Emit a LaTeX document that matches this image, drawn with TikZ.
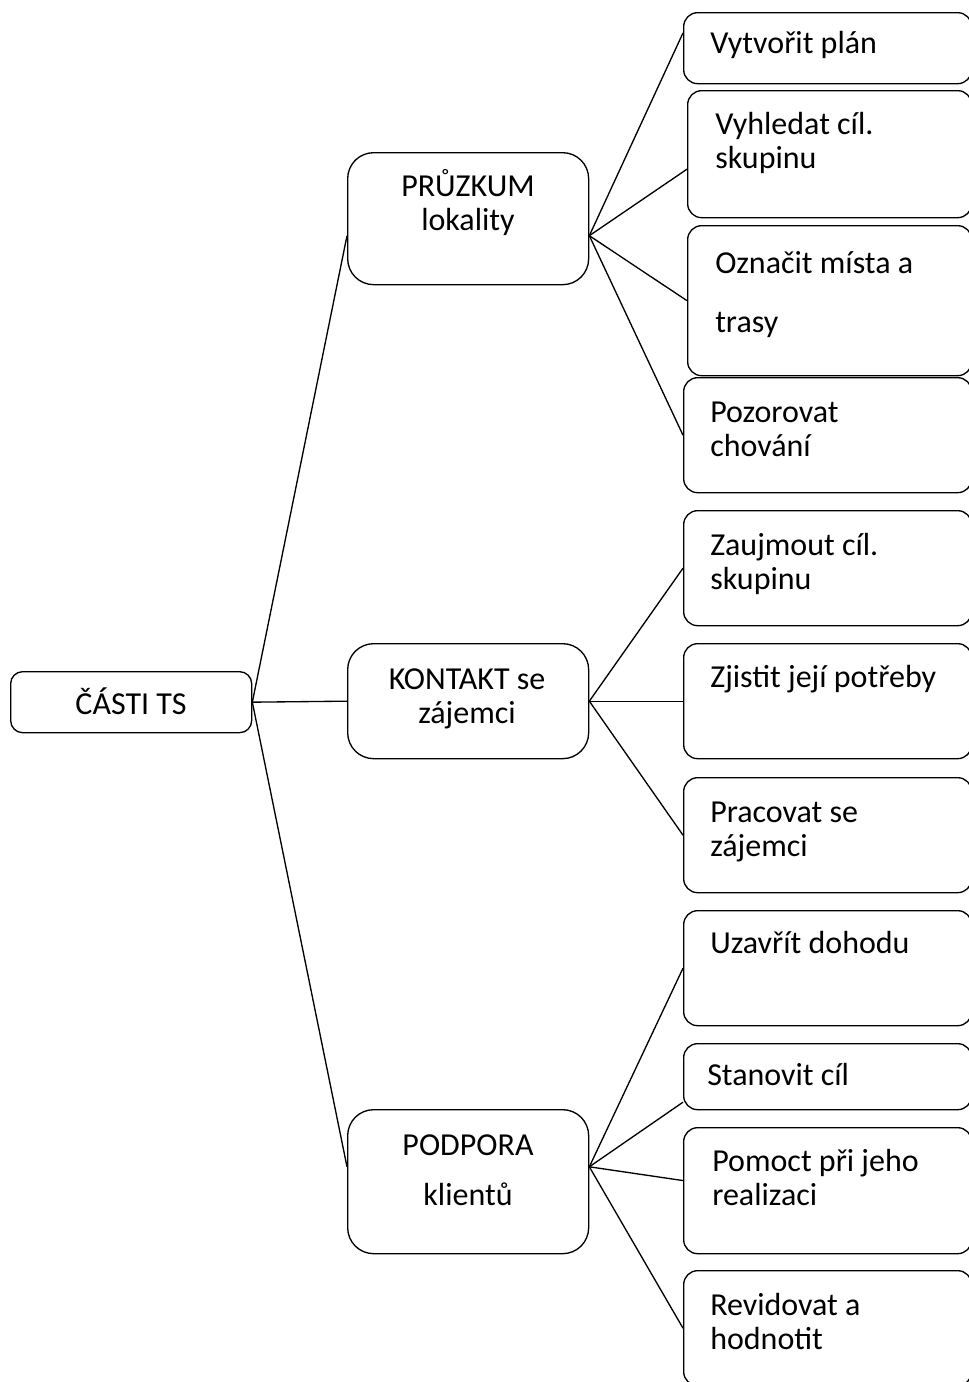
\documentclass[tikz,border=0pt]{standalone}
\usepackage{fontspec}
\setmainfont{Carlito}

\tikzset{
  tsbox/.style={draw, line width=1pt, rounded corners=10.5pt, anchor=north west, inner sep=0pt},
  midbox/.style={tsbox, rounded corners=19.5pt, minimum width=180.75pt},
  leafbox/.style={tsbox, minimum width=216pt},
  lbl/.style={inner sep=0pt, font=\fontsize{24}{25.5}\selectfont},
}

\begin{document}
\begin{tikzpicture}[x=0.75pt,y=0.75pt,yscale=-1,xscale=1]
\useasboundingbox (0,0) rectangle (968,1382);

%Rounded Rect root
\node [tsbox, rounded corners=9pt, minimum width=180.75pt, minimum height=45.75pt] (root) at (10,671) {};
%Rounded Rect middle
\node [midbox, minimum height=99pt] (pruzkum) at (347,152) {};
\node [midbox, minimum height=86.25pt] (kontakt) at (347,643) {};
\node [midbox, minimum height=108pt] (podpora) at (347,1109) {};
%Rounded Rect leaves
\node [leafbox, minimum height=53.25pt] (plan) at (683,12) {};
\node [leafbox, minimum width=213pt, minimum height=95.25pt] (vyhledat) at (687,90) {};
\node [leafbox, minimum width=213pt, minimum height=112.5pt] (oznacit) at (687,225) {};
\node [leafbox, minimum height=86.25pt] (pozorovat) at (683,377) {};
\node [leafbox, minimum height=86.25pt] (zaujmout) at (683,510) {};
\node [leafbox, minimum height=86.25pt] (zjistit) at (683,643) {};
\node [leafbox, minimum height=86.25pt] (pracovat) at (683,777) {};
\node [leafbox, minimum height=86.25pt] (uzavrit) at (683,910) {};
\node [leafbox, minimum height=49.5pt] (stanovit) at (683,1043) {};
\node [leafbox, minimum height=94.5pt] (pomoct) at (683,1127) {};
\node [leafbox, minimum height=86.25pt] (revidovat) at (683,1270) {};

%Straight Lines
\draw [line width=1pt] (root.east) -- (pruzkum.188);
\draw [line width=1pt] (root.east) -- (kontakt.west);
\draw [line width=1pt] (root.east) -- (podpora.173);
%Straight Lines
\draw [line width=1pt] (pruzkum.-8) -- (plan.174);
\draw [line width=1pt] (pruzkum.-8) -- (vyhledat.186);
\draw [line width=1pt] (pruzkum.-8) -- (oznacit.west);
\draw [line width=1pt] (pruzkum.-8) -- (pozorovat.west);
%Straight Lines
\draw [line width=1pt] (kontakt.east) -- (zaujmout.west);
\draw [line width=1pt] (kontakt.east) -- (zjistit.west);
\draw [line width=1pt] (kontakt.east) -- (pracovat.west);
%Straight Lines
\draw [line width=1pt] (podpora.7) -- (uzavrit.west);
\draw [line width=1pt] (podpora.7) -- (stanovit.190);
\draw [line width=1pt] (podpora.7) -- (pomoct.176);
\draw [line width=1pt] (podpora.7) -- (revidovat.west);

% Text Node
\draw (131,714) node [lbl, anchor=base] (troot) {ČÁSTI TS};
% Text Node
\draw (468,230) node [lbl, anchor=base, align=center] (tpruzkum) {PRŮZKUM\\lokality};
% Text Node
\draw (467,723) node [lbl, anchor=base, align=center] (tkontakt) {KONTAKT se\\zájemci};
% Text Node
\draw (468,1205) node [lbl, anchor=base, align=center] (tpodpora) {PODPORA\\[12pt]klientů};
% Text Node
\draw (710,53) node [lbl, anchor=base west] (tplan) {Vytvořit plán};
% Text Node
\draw (715,168) node [lbl, anchor=base west, align=left] (tvyhledat) {Vyhledat cíl.\\skupinu};
% Text Node
\draw (715,332) node [lbl, anchor=base west, align=left] (toznacit) {Označit místa a\\[18.75pt]trasy};
% Text Node
\draw (710,456) node [lbl, anchor=base west, align=left] (tpozorovat) {Pozorovat\\chování};
% Text Node
\draw (710,589) node [lbl, anchor=base west, align=left] (tzaujmout) {Zaujmout cíl.\\skupinu};
% Text Node
\draw (710,687) node [lbl, anchor=base west] (tzjistit) {Zjistit její potřeby};
% Text Node
\draw (710,856) node [lbl, anchor=base west, align=left] (tpracovat) {Pracovat se\\zájemci};
% Text Node
\draw (710,953) node [lbl, anchor=base west] (tuzavrit) {Uzavřít dohodu};
% Text Node
\draw (707,1085) node [lbl, anchor=base west] (tstanovit) {Stanovit cíl};
% Text Node
\draw (712,1205) node [lbl, anchor=base west, align=left] (tpomoct) {Pomoct při jeho\\realizaci};
% Text Node
\draw (710,1349) node [lbl, anchor=base west, align=left] (trevidovat) {Revidovat a\\hodnotit};

\end{tikzpicture}
\end{document}
